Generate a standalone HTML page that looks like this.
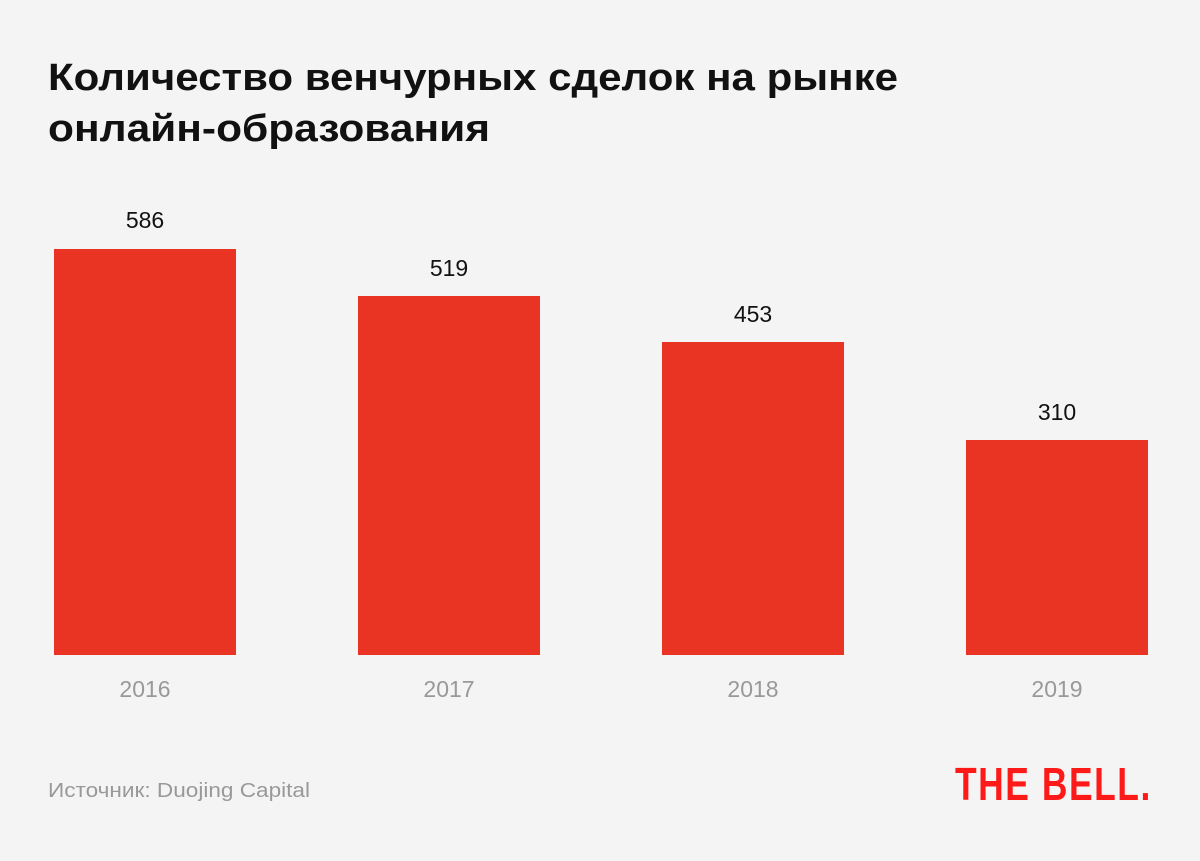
<!DOCTYPE html>
<html><head><meta charset="utf-8"><style>
body{margin:0;background:#f4f4f4;}
svg{display:block}
</style></head><body>
<svg width="1200" height="861" viewBox="0 0 1200 861" xmlns="http://www.w3.org/2000/svg">
<rect width="1200" height="861" fill="#f4f4f4"/>
<g font-family="Liberation Sans, sans-serif">
<text x="48" y="90" font-size="38" font-weight="bold" fill="#111" textLength="850" lengthAdjust="spacingAndGlyphs">Количество венчурных сделок на рынке</text>
<text x="48" y="141" font-size="38" font-weight="bold" fill="#111" textLength="442" lengthAdjust="spacingAndGlyphs">онлайн-образования</text>
<g fill="#e93323">
<rect x="54" y="249" width="182" height="406"/>
<rect x="358" y="296" width="182" height="359"/>
<rect x="662" y="342" width="182" height="313"/>
<rect x="966" y="440" width="182" height="215"/>
</g>
<g font-size="23" fill="#111" text-anchor="middle">
<text x="145" y="228">586</text>
<text x="449" y="276">519</text>
<text x="753" y="322">453</text>
<text x="1057" y="420">310</text>
</g>
<g font-size="23" fill="#999" text-anchor="middle">
<text x="145" y="697">2016</text>
<text x="449" y="697">2017</text>
<text x="753" y="697">2018</text>
<text x="1057" y="697">2019</text>
</g>
<text x="48" y="797" font-size="20" fill="#999" textLength="262" lengthAdjust="spacingAndGlyphs">Источник: Duojing Capital</text>
<g transform="translate(955,800) scale(0.77,1)">
<text x="0" y="0" font-size="46" font-weight="bold" fill="#ff1a1a" letter-spacing="2">THE BELL.</text>
</g>
</g>
</svg>
</body></html>
